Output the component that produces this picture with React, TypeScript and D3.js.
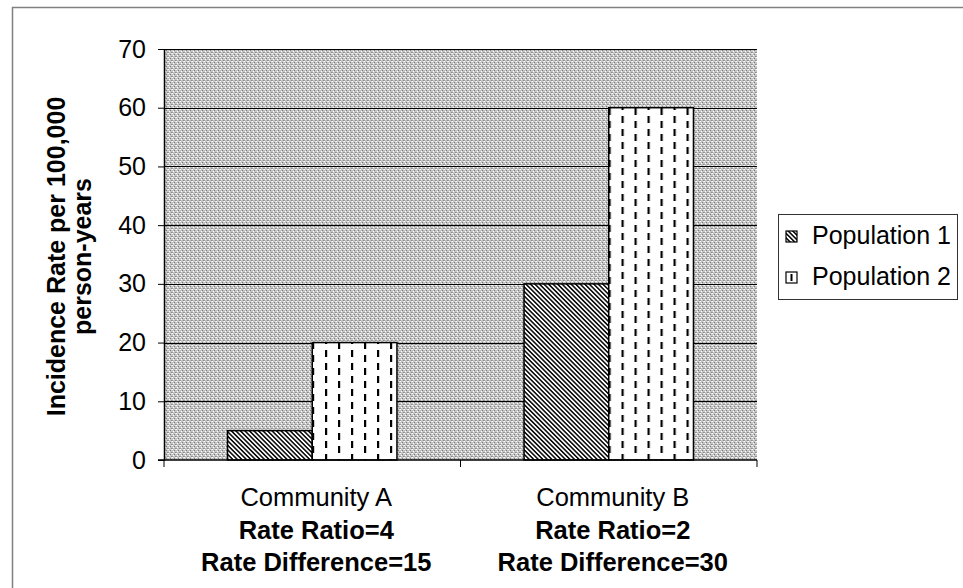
import { useEffect, useRef } from "react"
import * as d3 from "d3"

const communities = ["Community A", "Community B"]
const ratioLabels = ["Rate Ratio=4", "Rate Ratio=2"]
const differenceLabels = ["Rate Difference=15", "Rate Difference=30"]
const seriesNames = ["Population 1", "Population 2"]
const population1 = [5, 30]
const population2 = [20, 60]
const yTicks = [0, 10, 20, 30, 40, 50, 60, 70]

const FONT = "'Liberation Sans', Arial, sans-serif"

export default function App() {
  const svgRef = useRef<SVGSVGElement>(null)

  useEffect(() => {
    if (!svgRef.current) return
    document.body.style.margin = "0"

    const svg = d3.select(svgRef.current)
    svg.selectAll("*").remove()

    const width = 963
    const height = 588
    const margin = { top: 49, right: 206, bottom: 128, left: 164 }
    const plotW = width - margin.left - margin.right
    const plotH = height - margin.top - margin.bottom

    svg.attr("width", width).attr("height", height)

    const defs = svg.append("defs")

    // stippled grey plot background
    const bg = defs
      .append("pattern")
      .attr("id", "stipple")
      .attr("patternUnits", "userSpaceOnUse")
      .attr("width", 4)
      .attr("height", 4)
    bg.append("rect").attr("width", 4).attr("height", 4).attr("fill", "#c4c4c4")
    const dots = [
      [0, 0, "#ffffff"],
      [2, 1, "#7a7a7a"],
      [1, 2, "#ffffff"],
      [3, 3, "#8a8a8a"],
      [3, 0, "#e8e8e8"],
      [0, 3, "#9a9a9a"],
    ] as [number, number, string][]
    dots.forEach(([x, y, c]) => {
      bg.append("rect").attr("x", x).attr("y", y).attr("width", 1).attr("height", 1).attr("fill", c)
    })

    // diagonal hatch for population 1
    const hatch = defs
      .append("pattern")
      .attr("id", "hatch")
      .attr("patternUnits", "userSpaceOnUse")
      .attr("width", 3.2)
      .attr("height", 3.2)
      .attr("patternTransform", "rotate(-45)")
    hatch.append("rect").attr("width", 3.2).attr("height", 3.2).attr("fill", "#ffffff")
    hatch
      .append("line")
      .attr("x1", 1.6)
      .attr("x2", 1.6)
      .attr("y1", 0)
      .attr("y2", 3.2)
      .attr("stroke", "#000")
      .attr("stroke-width", 1.5)

    // short vertical dashes for population 2
    const dash = defs
      .append("pattern")
      .attr("id", "dashes")
      .attr("patternUnits", "userSpaceOnUse")
      .attr("width", 26)
      .attr("height", 13)
    dash.append("rect").attr("width", 26).attr("height", 13).attr("fill", "#ffffff")
    dash.append("rect").attr("x", 5).attr("y", 2).attr("width", 2.2).attr("height", 7).attr("fill", "#000")
    dash.append("rect").attr("x", 18).attr("y", 7).attr("width", 2.2).attr("height", 7).attr("fill", "#000")
    dash.append("rect").attr("x", 18).attr("y", -6).attr("width", 2.2).attr("height", 7).attr("fill", "#000")

    // legend swatch version of the dash fill
    const dashSmall = defs
      .append("pattern")
      .attr("id", "dashesSmall")
      .attr("patternUnits", "userSpaceOnUse")
      .attr("x", 8)
      .attr("y", 17)
      .attr("width", 11)
      .attr("height", 11)
    dashSmall.append("rect").attr("width", 11).attr("height", 11).attr("fill", "#ffffff")
    dashSmall.append("rect").attr("x", 4.5).attr("y", 2).attr("width", 2).attr("height", 7).attr("fill", "#000")

    // outer frame
    svg
      .append("rect")
      .attr("x", 12.5)
      .attr("y", 7.5)
      .attr("width", 1000)
      .attr("height", 1000)
      .attr("fill", "#ffffff")
      .attr("stroke", "#808080")
      .attr("stroke-width", 1.5)

    const g = svg.append("g").attr("transform", `translate(${margin.left},${margin.top})`)

    const y = d3.scaleLinear().domain([0, 70]).range([plotH, 0])
    const x0 = d3.scaleBand().domain(communities).range([0, plotW]).paddingInner(0).paddingOuter(0)
    const x1 = d3
      .scaleBand()
      .domain(seriesNames)
      .range([0, x0.bandwidth()])
      .paddingInner(0)
      .paddingOuter(0.75)

    g.append("rect").attr("width", plotW).attr("height", plotH).attr("fill", "url(#stipple)")

    g.selectAll(".grid-line")
      .data(yTicks.slice(1))
      .enter()
      .append("line")
      .attr("class", "grid-line")
      .attr("x1", 0)
      .attr("x2", plotW)
      .attr("y1", (d) => Math.round(y(d)) + 0.5)
      .attr("y2", (d) => Math.round(y(d)) + 0.5)
      .attr("stroke", "#000")
      .attr("stroke-width", 1)

    const rows = communities.map((c, i) => ({
      community: c,
      values: [
        { series: seriesNames[0], value: population1[i], fill: "url(#hatch)" },
        { series: seriesNames[1], value: population2[i], fill: "url(#dashes)" },
      ],
    }))

    const groups = g
      .selectAll(".group")
      .data(rows)
      .enter()
      .append("g")
      .attr("class", "group")
      .attr("transform", (d) => `translate(${x0(d.community)},0)`)

    groups
      .selectAll("rect")
      .data((d) => d.values)
      .enter()
      .append("rect")
      .attr("x", (d) => x1(d.series) as number)
      .attr("y", (d) => y(d.value))
      .attr("width", x1.bandwidth())
      .attr("height", (d) => plotH - y(d.value))
      .attr("fill", (d) => d.fill)
      .attr("stroke", "#000")
      .attr("stroke-width", 1.5)

    // y axis
    const yAxis = g
      .append("g")
      .call(d3.axisLeft(y).tickValues(yTicks).tickSize(6).tickPadding(12).tickSizeOuter(0))
    yAxis.select(".domain").attr("stroke", "#000").attr("stroke-width", 1.5)
    yAxis.selectAll(".tick line").attr("stroke", "#000")
    yAxis
      .selectAll("text")
      .style("font-family", FONT)
      .style("font-size", "25px")
      .attr("fill", "#000")

    // x axis
    const xAxisG = g.append("g").attr("transform", `translate(0,${plotH})`)
    xAxisG
      .append("line")
      .attr("x1", -6)
      .attr("x2", plotW)
      .attr("y1", 0)
      .attr("y2", 0)
      .attr("stroke", "#000")
      .attr("stroke-width", 1.5)
    const boundaries = [0, ...communities.map((c) => (x0(c) as number) + x0.bandwidth())]
    xAxisG
      .selectAll(".xtick")
      .data(boundaries)
      .enter()
      .append("line")
      .attr("class", "xtick")
      .attr("x1", (d) => d)
      .attr("x2", (d) => d)
      .attr("y1", 0)
      .attr("y2", 7)
      .attr("stroke", "#000")

    const labelX = (d: string) => (x0(d) as number) + x0.bandwidth() / 2 + 4
    const labels = xAxisG
      .selectAll(".xlabel")
      .data(communities)
      .enter()
      .append("text")
      .attr("class", "xlabel")
      .attr("text-anchor", "middle")
      .style("font-family", FONT)
      .style("font-size", "25.5px")
      .attr("fill", "#000")
    labels.append("tspan").attr("x", labelX).attr("y", 46).text((d) => d)
    labels
      .append("tspan")
      .attr("x", labelX)
      .attr("y", 79)
      .style("font-weight", "bold")
      .text((d, i) => ratioLabels[i])
    labels
      .append("tspan")
      .attr("x", labelX)
      .attr("y", 111)
      .style("font-weight", "bold")
      .text((d, i) => differenceLabels[i])

    // y axis title
    const title = svg
      .append("text")
      .attr("transform", `translate(0,${margin.top + plotH / 2 + 2}) rotate(-90)`)
      .attr("text-anchor", "middle")
      .style("font-family", FONT)
      .style("font-size", "25px")
      .style("font-weight", "bold")
      .attr("fill", "#000")
    title.append("tspan").attr("x", 0).attr("y", 65).text("Incidence Rate per 100,000")
    title.append("tspan").attr("x", 0).attr("y", 91).text("person-years")

    // legend
    const legend = svg.append("g").attr("transform", "translate(778,214)")
    legend
      .append("rect")
      .attr("x", 0.5)
      .attr("y", 0.5)
      .attr("width", 179)
      .attr("height", 85)
      .attr("fill", "#ffffff")
      .attr("stroke", "#333")
      .attr("stroke-width", 1)

    const legendItems = [
      { label: seriesNames[0], fill: "url(#hatch)" },
      { label: seriesNames[1], fill: "url(#dashesSmall)" },
    ]
    const item = legend
      .selectAll(".legend-item")
      .data(legendItems)
      .enter()
      .append("g")
      .attr("class", "legend-item")
      .attr("transform", (d, i) => `translate(0, ${i * 41})`)
    item
      .append("rect")
      .attr("x", 8)
      .attr("y", 17)
      .attr("width", 11)
      .attr("height", 11)
      .attr("fill", (d) => d.fill)
      .attr("stroke", "#000")
      .attr("stroke-width", 1.2)
    item
      .append("text")
      .attr("x", 34)
      .attr("y", 30)
      .style("font-family", FONT)
      .style("font-size", "25px")
      .attr("fill", "#000")
      .text((d) => d.label)
  }, [])

  return (
    <div style={{ width: 963, height: 588, overflow: "hidden" }}>
      <svg ref={svgRef} style={{ display: "block" }}></svg>
    </div>
  )
}
